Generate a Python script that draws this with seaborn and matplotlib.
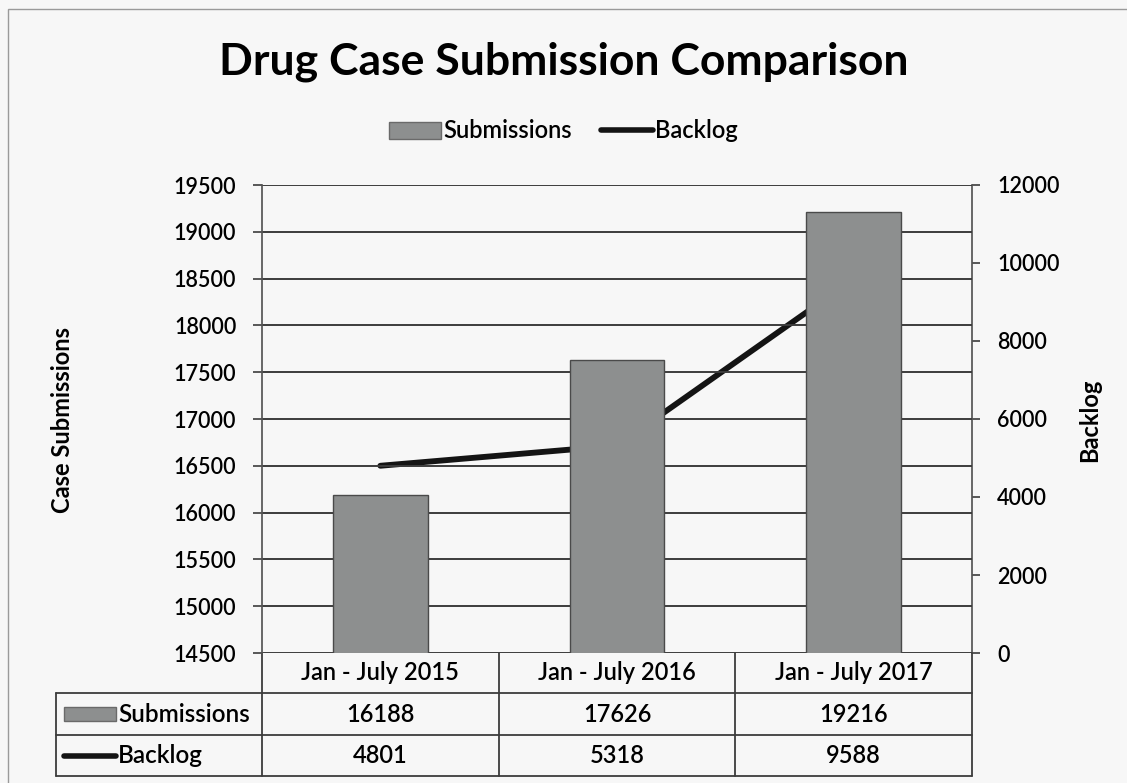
import matplotlib
matplotlib.use('Agg')  # no display
import matplotlib.pyplot as plt
import matplotlib.transforms as mtransforms
from matplotlib.lines import Line2D
from matplotlib.patches import Rectangle
import seaborn as sns
import pandas as pd

# chart data
periods = ['Jan - July 2015', 'Jan - July 2016', 'Jan - July 2017']
submissions = [16188, 17626, 19216]
backlog = [4801, 5318, 9588]
left_ticks = list(range(14500, 20000, 500))
right_ticks = list(range(0, 12001, 2000))

df = pd.DataFrame({'period': periods, 'Submissions': submissions, 'Backlog': backlog})

BG = '#f7f7f7'
BAR = '#8d8f8f'
GRID = '#3c3c3c'
W, H = 1127, 783
TXT_W = 'semibold'

sns.set_theme(style='white')
plt.rcParams['font.family'] = ['Lato', 'DejaVu Sans']
plt.rcParams['text.color'] = 'black'
plt.rcParams['ytick.color'] = 'black'

fig = plt.figure(figsize=(W / 100, H / 100), dpi=100, facecolor=BG)

# plot area in pixels: x 262..972, y 185..653
ax = fig.add_axes([262 / W, 1 - 653 / H, 710 / W, 468 / H])
ax2 = ax.twinx()
ax2.set_zorder(ax.get_zorder() - 1)  # backlog line sits behind bars
ax.patch.set_visible(False)
ax2.patch.set_facecolor(BG)

# bars on left axis
sns.barplot(data=df, x='period', y='Submissions', color=BAR, width=0.4,
            saturation=1, edgecolor='#4a4a4a', linewidth=1, ax=ax, zorder=3)
ax.set_ylim(14500, 19500)
ax.set_yticks(left_ticks)
ax.set_xlim(-0.5, len(periods) - 0.5)
ax.set_axisbelow(True)
ax.yaxis.grid(True, color=GRID, linewidth=1.4)
ax.set_xlabel('')
ax.set_ylabel('')
ax.set_xticks([])

# backlog line on right axis
sns.lineplot(data=df, x='period', y='Backlog', color='#141414', linewidth=4.2,
             ax=ax2, legend=False)
ax2.set_ylim(0, 12000)
ax2.set_yticks(right_ticks)
ax2.set_xlim(-0.5, len(periods) - 0.5)
ax2.set_ylabel('')
ax2.set_xlabel('')

for a in (ax, ax2):
    for s in a.spines.values():
        s.set_visible(False)
ax.spines['left'].set_visible(True)
ax.spines['left'].set_color('#555555')
ax2.spines['right'].set_visible(True)
ax2.spines['right'].set_color('#555555')

ax.tick_params(axis='y', left=True, direction='out', length=6.5, width=1.2,
               color=GRID, labelsize=15.5, pad=12, labelcolor='black')
ax2.tick_params(axis='y', right=True, direction='out', length=6, width=1.2,
                color=GRID, labelsize=15.5, pad=12, labelcolor='black')
for lab in ax.get_yticklabels() + ax2.get_yticklabels():
    lab.set_fontweight(TXT_W)

# title, legend, axis titles
fig.text(0.5, 1 - 62 / H, 'Drug Case Submission Comparison', ha='center', va='center',
         fontsize=32, fontweight='bold')
handles = [Rectangle((0, 0), 1, 1, facecolor=BAR, edgecolor='#6a6a6a'),
           Line2D([0], [0], color='#141414', linewidth=4)]
fig.legend(handles, ['Submissions', 'Backlog'], loc='center', ncol=2,
           bbox_to_anchor=(0.5, 1 - 131 / H), frameon=False,
           prop={'size': 17, 'weight': TXT_W},
           handlelength=2.2, handletextpad=0.1, columnspacing=1.2)
fig.text(62 / W, 1 - 420 / H, 'Case Submissions', rotation=90, ha='center', va='center',
         fontsize=17, fontweight='bold')
fig.text(1090 / W, 1 - 420 / H, 'Backlog', rotation=90, ha='center', va='center',
         fontsize=17, fontweight='bold')

# data table under the plot
tr = mtransforms.blended_transform_factory(ax.transData, ax.transAxes)
ph = 468.0
y_head = -(693 - 653) / ph
y_r1 = -(735 - 653) / ph
y_r2 = -(776 - 653) / ph
x_lab = -0.5 - (262 - 56) / 710 * len(periods)
x_right = len(periods) - 0.5
lkw = dict(color=GRID, linewidth=1.3, transform=tr, clip_on=False)

for y in (y_head, y_r1, y_r2):
    ax.add_line(Line2D([x_lab, x_right], [y, y], **lkw))
for i in range(len(periods) + 1):
    ax.add_line(Line2D([i - 0.5, i - 0.5], [0, y_r2], **lkw))
ax.add_line(Line2D([x_lab, x_lab], [y_head, y_r2], **lkw))

tkw = dict(transform=tr, ha='center', va='center', fontsize=17, fontweight=TXT_W,
           clip_on=False)
for i, p in enumerate(periods):
    ax.text(i, y_head / 2, p, **tkw)
    ax.text(i, (y_head + y_r1) / 2, str(submissions[i]), **tkw)
    ax.text(i, (y_r1 + y_r2) / 2, str(backlog[i]), **tkw)

# row labels with legend keys
key_x0 = x_lab + 8 / 710 * 3
key_x1 = x_lab + 60 / 710 * 3
ym1 = (y_head + y_r1) / 2
ym2 = (y_r1 + y_r2) / 2
ax.add_patch(Rectangle((key_x0, ym1 - 7 / ph), key_x1 - key_x0, 14 / ph, transform=tr,
                       facecolor=BAR, edgecolor='#6a6a6a', clip_on=False))
ax.add_line(Line2D([key_x0, key_x1], [ym2, ym2], color='#141414', linewidth=4,
                   transform=tr, clip_on=False))
ax.text(key_x1 + 0.01, ym1, 'Submissions', transform=tr, ha='left', va='center',
        fontsize=17.5, fontweight=TXT_W, clip_on=False)
ax.text(key_x1 + 0.01, ym2, 'Backlog', transform=tr, ha='left', va='center',
        fontsize=17.5, fontweight=TXT_W, clip_on=False)

# outer chart frame
fig.patches.append(Rectangle((8 / W, -0.02), 1.1, 1 - 9 / H + 0.02, transform=fig.transFigure,
                             fill=False, edgecolor='#9a9a9a', linewidth=1))

fig.savefig('out.png', dpi=100, facecolor=BG)
